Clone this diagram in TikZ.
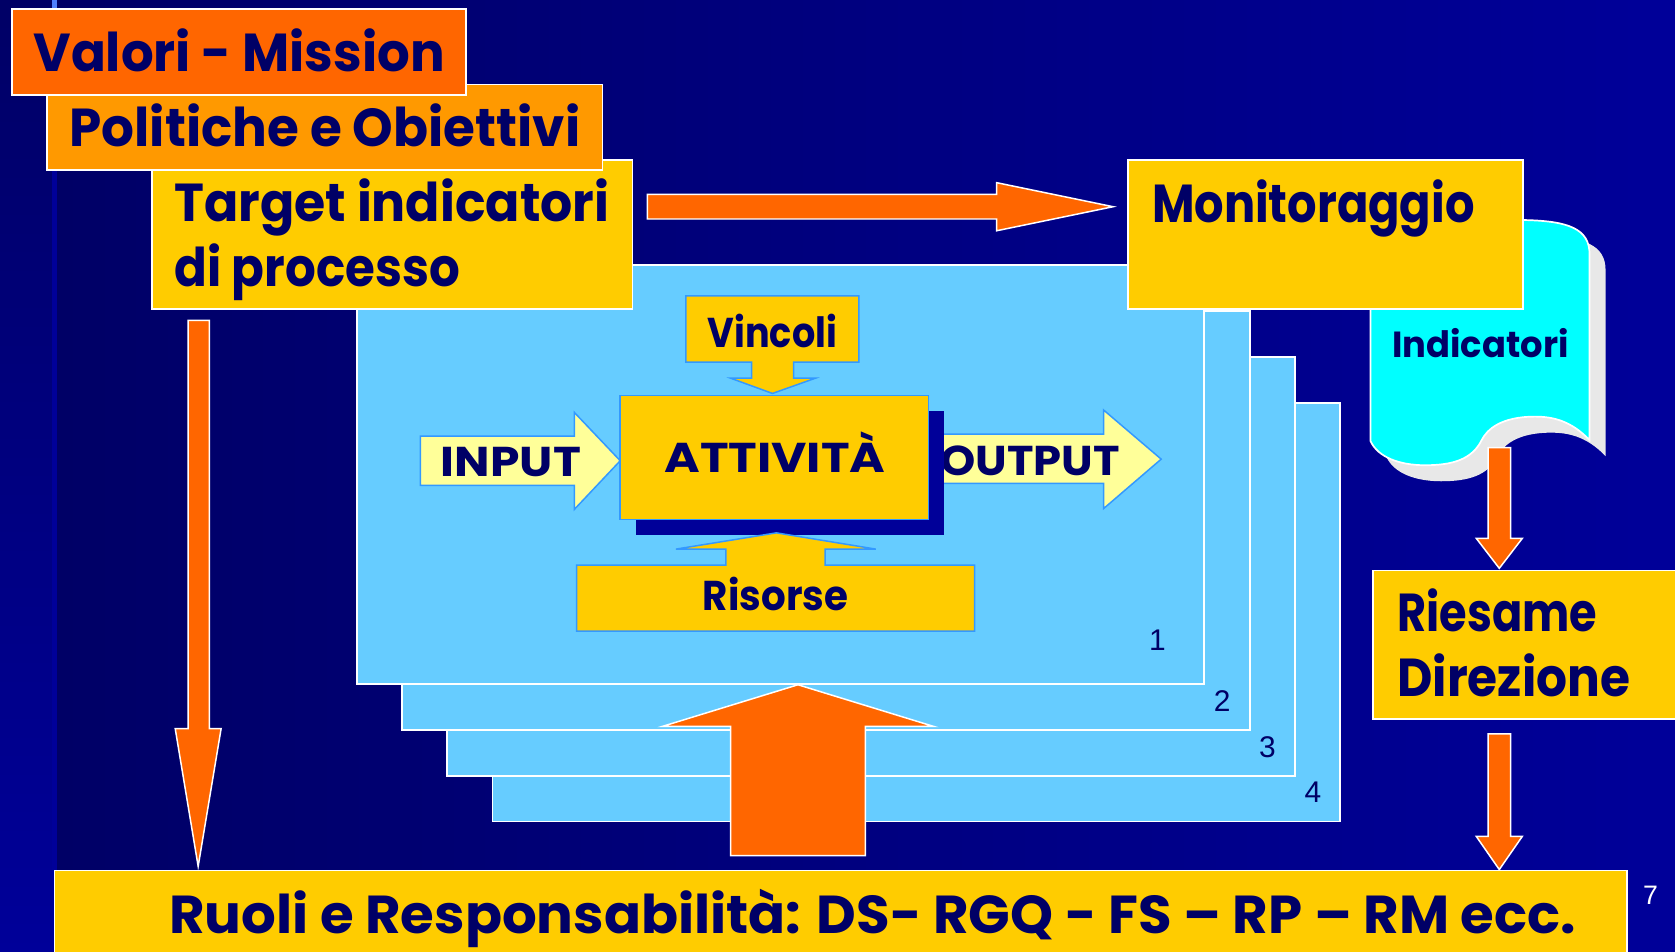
\documentclass[tikz,border=0pt]{standalone}
\usepackage{fontspec}
\setmainfont{Poppins}
\newfontfamily\numfont{Liberation Sans}
\definecolor{navy}{HTML}{000066}
\definecolor{bgblue}{HTML}{000099}
\definecolor{orA}{HTML}{FF6600}
\definecolor{orB}{HTML}{FF9900}
\definecolor{gold}{HTML}{FFCC00}
\definecolor{sky}{HTML}{66CCFF}
\definecolor{paleY}{HTML}{FFFF99}
\definecolor{edgeblue}{HTML}{3399FF}
\definecolor{docshadow}{HTML}{E8E8E8}
\definecolor{cyanD}{HTML}{00FFFF}
\definecolor{lineblue}{HTML}{5080FF}
\newcommand\rnode[6][]{\node[box,#1,minimum width={(#4-#2)*0.5pt},minimum height={(#5-#3)*0.5pt}] (#6) at (#2,#3) {};}
% fit a text to a width given in picture units (1 unit = 0.5pt), keeping its height
\newcommand\fitw[2]{\resizebox{\dimexpr #1pt/2\relax}{\height}{#2}}
\begin{document}
\begin{tikzpicture}[x=0.5pt,y=-0.5pt,
  box/.style={draw=white,line width=0.8pt,fill=gold,inner sep=0pt,outer sep=0pt,anchor=north west},
  bigtxt/.style={text=navy,font=\bfseries\fontsize{25}{30}\selectfont,anchor=base west,inner sep=0pt},
  midtxt/.style={text=navy,font=\bfseries\fontsize{19.5}{24}\selectfont,anchor=base,inner sep=0pt},
  smalltxt/.style={text=navy,font=\bfseries\fontsize{17}{20}\selectfont,anchor=base west,inner sep=0pt},
  numtxt/.style={text=navy,font=\numfont\fontsize{14}{16}\selectfont,anchor=base,inner sep=0pt},
  orarrow/.style={fill=orA,draw=white,line width=0.7pt,line join=miter},
  inshape/.style={fill=gold,draw=edgeblue,line width=0.7pt,line join=miter},
  inarrow/.style={fill=paleY,draw=edgeblue,line width=0.7pt,line join=miter},
  sheet/.style={box,fill=sky,line width=0.9pt}]
\useasboundingbox (0,0) rectangle (1568,891);
\clip (0,0) rectangle (1568,891);
% background
\shade[left color=navy,right color=bgblue] (53,0) rectangle (1568,891);
\shade[top color=navy,bottom color=bgblue] (0,0) rectangle (49,891);
\fill[bgblue] (49,0) rectangle (53,891);
\fill[lineblue] (49,0) rectangle (53,10);
% process sheets
\rnode[sheet]{461}{377}{1254.5}{769}{sheet4}
\rnode[sheet]{418.6}{334}{1212.1}{726}{sheet3}
\rnode[sheet]{376.3}{291}{1169.8}{683}{sheet2}
\rnode[sheet]{334}{248}{1127.5}{640}{sheet1}
\node[numtxt] (n1) at (1083.5,608.6) {1};
\node[numtxt] (n2) at (1144,665.6) {2};
\node[numtxt] (n3) at (1186.5,709) {3};
\node[numtxt] (n4) at (1229,751) {4};
% input / output
\draw[inarrow] (393.6,408.2) -- (537.6,408.2) -- (537.6,386) -- (580.6,431.3) -- (537.6,476.9) -- (537.6,454.4) -- (393.6,454.4) -- cycle;
\node[midtxt,anchor=base west] (input) at (412.4,445.7) {\fitw{131}{INPUT}};
\draw[inarrow] (869,406.4) -- (1033.2,406.4) -- (1033.2,383.9) -- (1087,429.8) -- (1033.2,476) -- (1033.2,452.5) -- (869,452.5) -- cycle;
\node[midtxt,anchor=base west] (output) at (880,445) {\fitw{168}{OUTPUT}};
% vincoli
\draw[inshape] (642,277) -- (804,277) -- (804,339) -- (743,339) -- (743,354) -- (763.4,354) -- (723.1,368.3) -- (683.9,354) -- (703.7,354) -- (703.7,339) -- (642,339) -- cycle;
\node[midtxt] (vincoli) at (723,325.2) {\fitw{121}{Vincoli}};
% attivita
\fill[bgblue] (595,385) rectangle (884,501);
\draw[inshape] (580.6,370) rectangle (869.3,486.3);
\node[midtxt] (attivita) at (725.5,442.6) {\fitw{207}{ATTIVITÀ}};
% risorse
\draw[inshape] (539.8,529) -- (679.5,529) -- (679.5,514) -- (632.8,514) -- (726.8,498.8) -- (819.8,514) -- (772.5,514) -- (772.5,529) -- (912.3,529) -- (912.3,590.8) -- (539.8,590.8) -- cycle;
\node[midtxt] (risorse) at (726,571.2) {\fitw{136}{Risorse}};
% big up arrow
\draw[orarrow] (684,801) -- (810,801) -- (810,680) -- (874,680) -- (747,641) -- (620,680) -- (684,680) -- cycle;
% document (Indicatori)
\fill[docshadow,shift={(15,15)}] (1283,206) -- (1428,206) .. controls (1468,207) and (1488,214) .. (1488,238) -- (1488,412) .. controls (1470,393) and (1452,390) .. (1437,390) .. controls (1405,390) and (1392,402) .. (1387,412) .. controls (1378,430) and (1360,435.5) .. (1334,435.5) .. controls (1310,435.5) and (1290,428) .. (1283,413) -- cycle;
\draw[fill=cyanD,draw=white,line width=0.8pt] (1283,206) -- (1428,206) .. controls (1468,207) and (1488,214) .. (1488,238) -- (1488,412) .. controls (1470,393) and (1452,390) .. (1437,390) .. controls (1405,390) and (1392,402) .. (1387,412) .. controls (1378,430) and (1360,435.5) .. (1334,435.5) .. controls (1310,435.5) and (1290,428) .. (1283,413) -- cycle;
\node[smalltxt] (indic) at (1303,334.6) {\fitw{165}{Indicatori}};
% top-left boxes
\rnode{142.5}{150}{592}{289.5}{target}
\node[bigtxt] (t1) at (163,207.6) {\fitw{407}{Target indicatori}};
\node[bigtxt] (t2) at (163,268.4) {\fitw{267}{di processo}};
\rnode[fill=orB]{43.9}{79}{564}{159}{politiche}
\node[bigtxt] (p1) at (64.8,137.3) {\fitw{478}{Politiche e Obiettivi}};
\rnode[fill=orA]{11.3}{8.4}{436}{89}{valori}
\node[bigtxt] (v1) at (31,67.1) {\fitw{385}{Valori - Mission}};
\rnode{1056}{150}{1425.5}{289.5}{monitor}
\node[bigtxt] (m1) at (1078,208.5) {\fitw{302}{Monitoraggio}};
% right boxes
\rnode{1285}{534}{1580}{673}{riesame}
\node[bigtxt] (r1) at (1307.7,591.5) {\fitw{187}{Riesame}};
\node[bigtxt] (r2) at (1307.7,651.7) {\fitw{218}{Direzione}};
\rnode{51}{815}{1523}{900}{ruoli}
\node[bigtxt] (ru) at (158,874) {\fitw{1317}{Ruoli e Responsabilità: DS- RGQ - FS – RP – RM ecc.}};
% orange connectors
\draw[orarrow] (606,182) -- (933,182) -- (933,171) -- (1042,193.5) -- (933,216) -- (933,205) -- (606,205) -- cycle;
\draw[orarrow] (176,300) -- (196,300) -- (196,682) -- (207,682) -- (185.5,811) -- (164,682) -- (176,682) -- cycle;
\draw[orarrow] (1393,419) -- (1414,419) -- (1414,504) -- (1425,504) -- (1403.5,532) -- (1382,504) -- (1393,504) -- cycle;
\draw[orarrow] (1393,687) -- (1414,687) -- (1414,783) -- (1425,783) -- (1403.5,814) -- (1382,783) -- (1393,783) -- cycle;
% page number
\node[numtxt,text=white,font=\numfont\fontsize{12.5}{14}\selectfont] (pg) at (1545,847) {7};
\end{tikzpicture}
\end{document}
